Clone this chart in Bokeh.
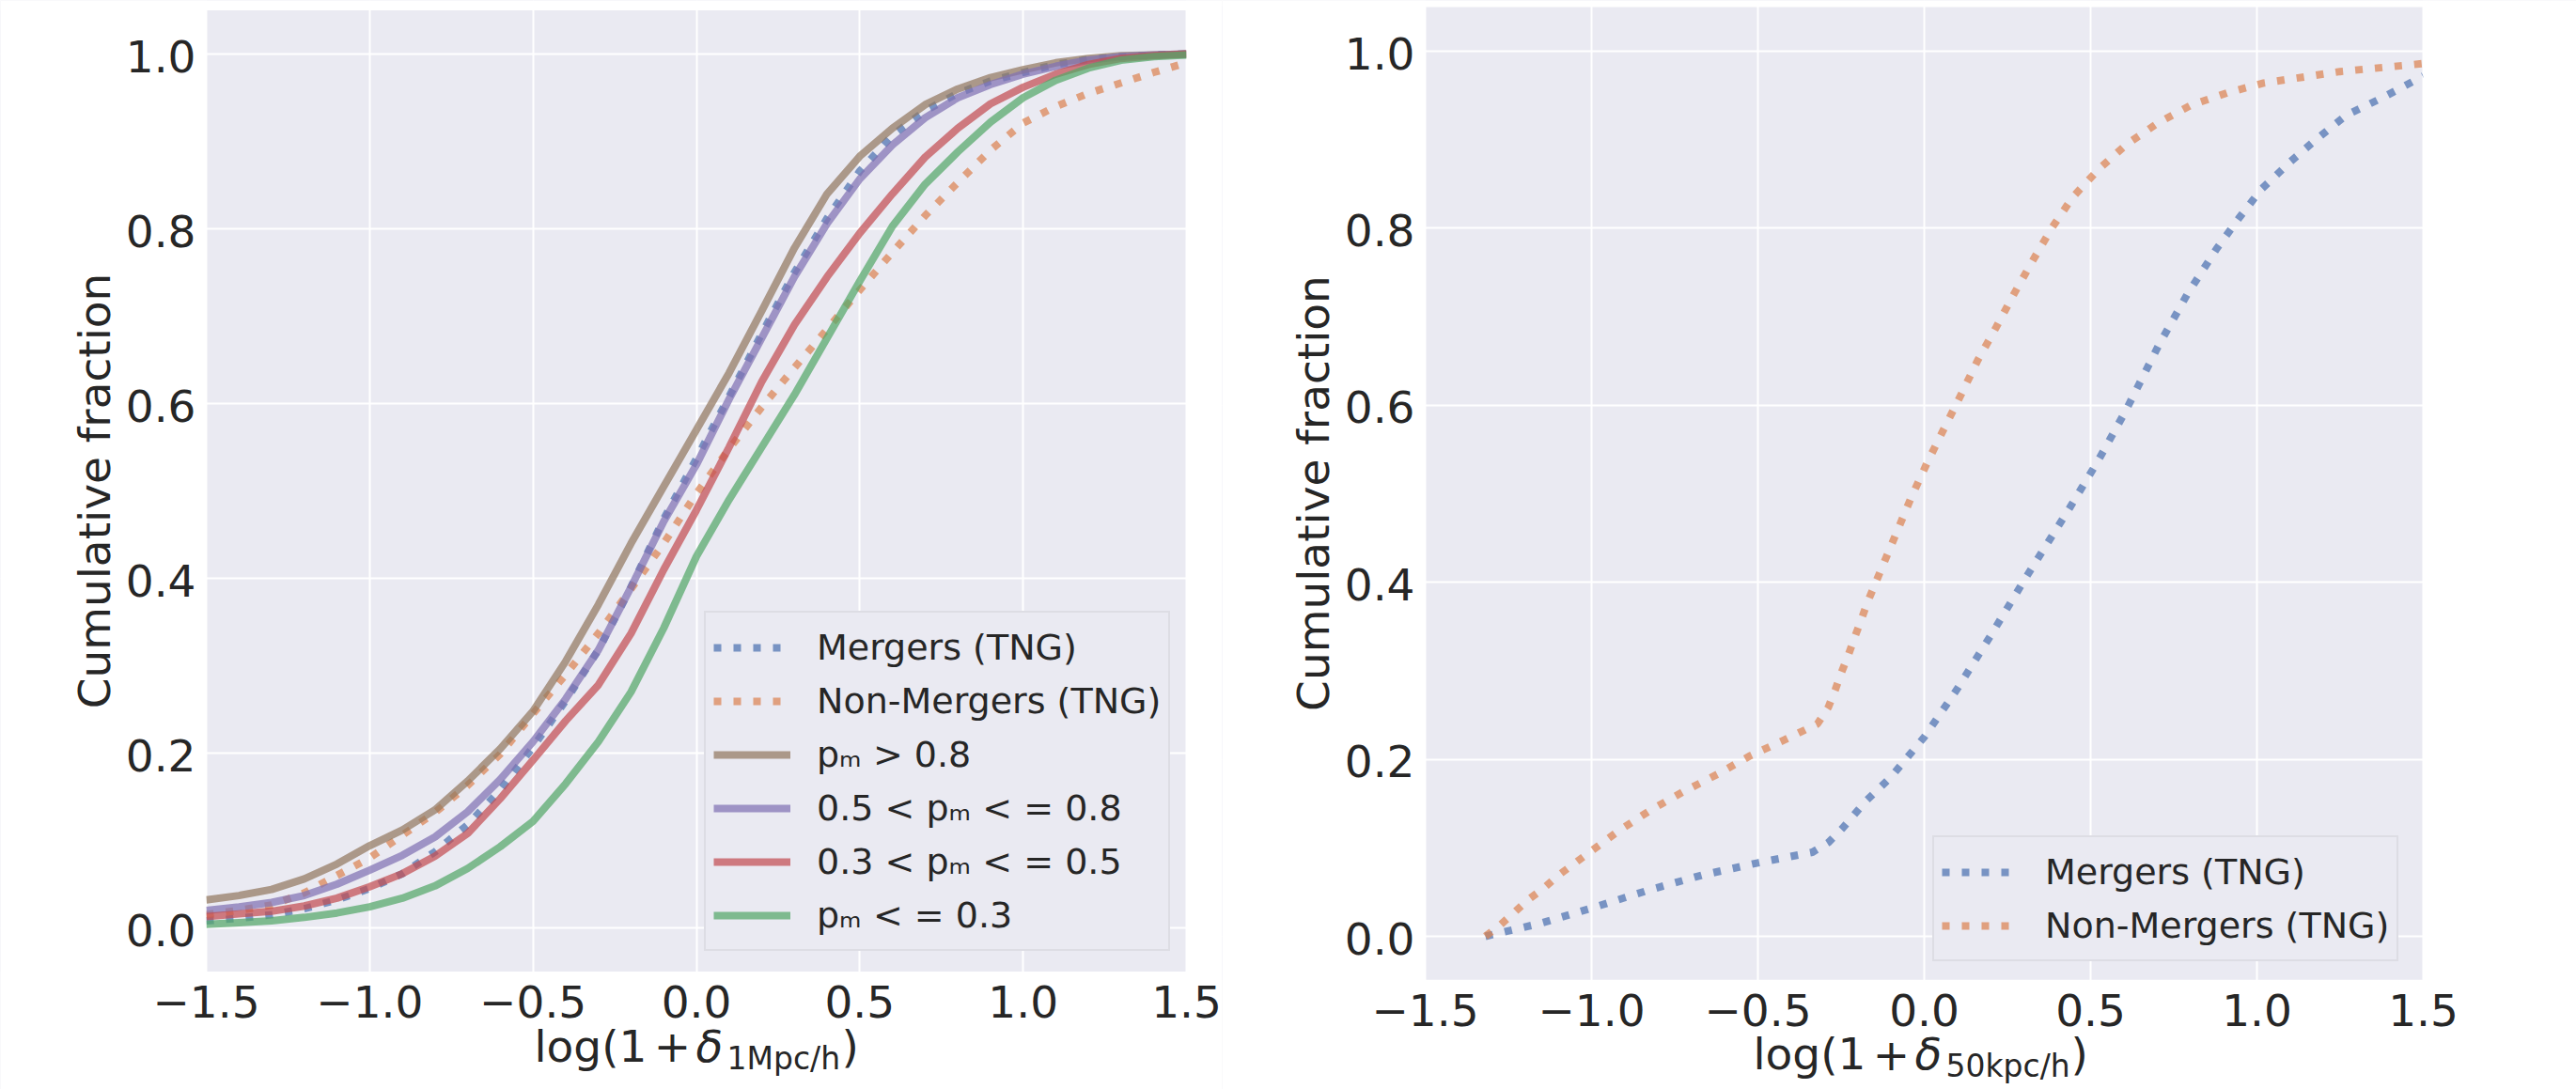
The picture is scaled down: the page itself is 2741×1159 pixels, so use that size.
import math
from bokeh.plotting import figure
from bokeh.models import FixedTicker, Legend, LegendItem, Range1d, BoxAnnotation
from bokeh.layouts import row
from bokeh.core.properties import value
from bokeh.embed import file_html
from bokeh.resources import INLINE

# ---------------- data ----------------
X_TICKS = [-1.5, -1.0, -0.5, 0.0, 0.5, 1.0, 1.5]
X_TICK_LABELS = ["\u22121.5", "\u22121.0", "\u22120.5", "0.0", "0.5", "1.0", "1.5"]
Y_TICKS = [0.0, 0.2, 0.4, 0.6, 0.8, 1.0]
Y_TICK_LABELS = ["0.0", "0.2", "0.4", "0.6", "0.8", "1.0"]

# left panel: cumulative fractions vs log(1+delta_1Mpc/h)
left_x = [-1.5, -1.4, -1.3, -1.2, -1.1, -1.0, -0.9, -0.8, -0.7, -0.6, -0.5, -0.4, -0.3, -0.2,
          -0.1, 0.0, 0.1, 0.2, 0.3, 0.4, 0.5, 0.6, 0.7, 0.8, 0.9, 1.0, 1.1, 1.2, 1.3, 1.4, 1.5]
left_mergers = [0.008, 0.011, 0.015, 0.022, 0.032, 0.045, 0.062, 0.087, 0.118, 0.158, 0.207, 0.26,
                0.318, 0.39, 0.468, 0.537, 0.608, 0.68, 0.75, 0.812, 0.866, 0.907, 0.935, 0.955,
                0.969, 0.979, 0.988, 0.994, 0.997, 0.999, 1.0]
left_nonmergers = [0.015, 0.02, 0.026, 0.04, 0.06, 0.08, 0.106, 0.132, 0.163, 0.199, 0.245, 0.29,
                   0.337, 0.388, 0.44, 0.497, 0.548, 0.596, 0.641, 0.685, 0.73, 0.773, 0.815, 0.853,
                   0.89, 0.921, 0.94, 0.955, 0.967, 0.979, 0.99]
left_pm_gt08 = [0.032, 0.037, 0.044, 0.056, 0.073, 0.094, 0.112, 0.135, 0.168, 0.205, 0.248, 0.305,
                0.37, 0.44, 0.505, 0.57, 0.635, 0.706, 0.778, 0.84, 0.883, 0.915, 0.942, 0.96,
                0.973, 0.982, 0.99, 0.995, 0.998, 0.999, 1.0]
left_pm_05_08 = [0.020, 0.024, 0.029, 0.037, 0.050, 0.066, 0.083, 0.104, 0.133, 0.17, 0.213, 0.262,
                 0.318, 0.39, 0.465, 0.53, 0.605, 0.675, 0.745, 0.806, 0.857, 0.896, 0.927, 0.95,
                 0.965, 0.977, 0.986, 0.993, 0.997, 0.999, 1.0]
left_pm_03_05 = [0.013, 0.016, 0.019, 0.025, 0.034, 0.047, 0.062, 0.082, 0.108, 0.148, 0.192, 0.237,
                 0.278, 0.337, 0.41, 0.478, 0.55, 0.625, 0.69, 0.745, 0.795, 0.84, 0.882, 0.915,
                 0.943, 0.962, 0.977, 0.988, 0.995, 0.998, 1.0]
left_pm_le03 = [0.004, 0.006, 0.008, 0.012, 0.017, 0.024, 0.034, 0.048, 0.068, 0.093, 0.122, 0.165,
                0.213, 0.27, 0.343, 0.425, 0.49, 0.55, 0.61, 0.675, 0.74, 0.803, 0.851, 0.888,
                0.922, 0.95, 0.97, 0.984, 0.993, 0.997, 0.999]

# right panel: cumulative fractions vs log(1+delta_50kpc/h)
right_mergers_x = [-1.319, -1.263, -1.15, -0.99, -0.83, -0.669, -0.5, -0.336, -0.288, -0.246, -0.175,
                   -0.1, 0.0, 0.1, 0.2, 0.3, 0.437, 0.522, 0.606, 0.705, 0.79, 0.879, 0.945, 1.013,
                   1.10, 1.18, 1.27, 1.38, 1.47, 1.5]
right_mergers_y = [0.0, 0.005, 0.015, 0.033, 0.052, 0.069, 0.083, 0.095, 0.106, 0.122, 0.153,
                   0.18, 0.225, 0.28, 0.34, 0.402, 0.484, 0.537, 0.594, 0.668, 0.725, 0.777, 0.811, 0.844,
                   0.875, 0.901, 0.928, 0.948, 0.966, 0.972]
right_nonmergers_x = [-1.319, -1.277, -1.235, -1.192, -1.145, -1.103, -1.013, -0.919, -0.825, -0.726,
                      -0.622, -0.523, -0.42, -0.321, -0.288, -0.267, -0.249, -0.227, -0.208, -0.189,
                      -0.170, -0.1, -0.039, 0.010, 0.06, 0.112, 0.161, 0.216, 0.27, 0.327, 0.383,
                      0.446, 0.525, 0.609, 0.703, 0.802, 0.911, 1.02, 1.25, 1.5]
right_nonmergers_y = [0.0, 0.012, 0.026, 0.041, 0.054, 0.068, 0.093, 0.119, 0.142, 0.163,
                      0.183, 0.204, 0.222, 0.240, 0.259, 0.279, 0.298, 0.319, 0.339, 0.358,
                      0.378, 0.441, 0.496, 0.536, 0.574, 0.613, 0.651, 0.688, 0.726, 0.764, 0.8,
                      0.835, 0.867, 0.895, 0.919, 0.939, 0.953, 0.964, 0.977, 0.986]

LEFT_LABELS = ["Mergers (TNG)", "Non-Mergers (TNG)", "p\u2098 > 0.8", "0.5 < p\u2098 < = 0.8",
               "0.3 < p\u2098 < = 0.5", "p\u2098 < = 0.3"]
RIGHT_LABELS = ["Mergers (TNG)", "Non-Mergers (TNG)"]
Y_TITLE = "Cumulative fraction"
X_TITLE_MAIN = "log(1"
X_TITLE_PLUS = "+"
X_TITLE_DELTA = "\u03b4"
X_TITLE_CLOSE = ")"
LEFT_SUB = "1Mpc/h"
RIGHT_SUB = "50kpc/h"

# ---------------- style ----------------
FONT = "DejaVu Sans"
TXT = "#262626"
BG = "#EAEAF2"
C_BLUE, C_ORANGE, C_GREEN, C_RED, C_PURPLE, C_BROWN = "#4C72B0", "#DD8452", "#55A868", "#C44E52", "#8172B3", "#937860"
LW = 8
ALPHA = 0.72
DOT = "8 13"
H = 1159
TICK_DY = 32     # px below the axes area (x tick labels)
TITLE_DY = 79    # px below the axes area (x title)
SUB_DY = 92      # px below the axes area (x title subscript)
YTICK_DY = 2
YTITLE_DX = -119


def panel(w, area_left, area_w, zero_row, px_per_unit_y, y_lo, y_hi, sub, sub_w):
    """One panel drawn on a full-size frame: grey axes area, grid, texts placed around it."""
    kx = area_w / 3.0
    p = figure(width=w, height=H, frame_width=w, frame_height=H, min_border=0,
               x_axis_location=None, y_axis_location=None,
               x_range=Range1d(-1.5 - area_left / kx, -1.5 + (w - area_left) / kx),
               y_range=Range1d((zero_row - H) / px_per_unit_y, zero_row / px_per_unit_y),
               output_backend="svg", toolbar_location=None)
    p.background_fill_color = BG
    p.border_fill_color = "white"
    p.outline_line_color = None
    p.xgrid[0].ticker = FixedTicker(ticks=X_TICKS)
    p.ygrid[0].ticker = FixedTicker(ticks=Y_TICKS)
    for g in (p.xgrid[0], p.ygrid[0]):
        g.grid_line_color = "white"
        g.grid_line_width = 2
    xr, yr = p.x_range, p.y_range
    # white margins around the grey axes area
    for kw in (dict(left=xr.start, right=xr.end, bottom=yr.start, top=y_lo),
               dict(left=xr.start, right=xr.end, bottom=y_hi, top=yr.end),
               dict(left=xr.start, right=-1.5, bottom=yr.start, top=yr.end),
               dict(left=1.5, right=xr.end, bottom=yr.start, top=yr.end)):
        p.add_layout(BoxAnnotation(fill_color="white", fill_alpha=1.0, line_color=None, **kw))
    common = dict(text_font=value(FONT), text_color=TXT, level="overlay", text_baseline="alphabetic")
    # x tick labels
    p.text(x=X_TICKS, y=[y_lo] * len(X_TICKS), text=X_TICK_LABELS, y_offset=TICK_DY,
           text_font_size="47px", text_align="center", **common)
    # y tick labels
    p.text(x=[-1.5] * len(Y_TICKS), y=Y_TICKS, text=Y_TICK_LABELS, x_offset=-11, y_offset=YTICK_DY,
           text_font_size="47px", text_align="right", **common)
    # y title
    p.text(x=[-1.5], y=[(y_lo + y_hi) / 2], text=[Y_TITLE], x_offset=YTITLE_DX, angle=math.pi / 2,
           text_font_size="47px", text_align="center", **common)
    # x title: log(1 + delta_sub)
    p.text(x=[-1.5], y=[y_lo], text=[X_TITLE_MAIN], x_offset=349, y_offset=TITLE_DY,
           text_font_size="47px", text_align="left", **common)
    p.text(x=[-1.5], y=[y_lo], text=[X_TITLE_PLUS], x_offset=496, y_offset=TITLE_DY,
           text_font_size="47px", text_align="center", **common)
    p.text(x=[-1.5], y=[y_lo], text=[X_TITLE_DELTA], x_offset=521, y_offset=TITLE_DY, text_font_style="italic",
           text_font_size="47px", text_align="left", **common)
    p.text(x=[-1.5], y=[y_lo], text=[sub], x_offset=554, y_offset=SUB_DY,
           text_font_size="33px", text_align="left", **common)
    p.text(x=[-1.5], y=[y_lo], text=[X_TITLE_CLOSE], x_offset=554 + sub_w + 1, y_offset=TITLE_DY,
           text_font_size="47px", text_align="left", **common)
    return p


def legend(p, items, loc):
    lg = Legend(items=items, location=loc)
    lg.label_text_font = FONT
    lg.label_text_font_size = "38px"
    lg.label_text_color = TXT
    lg.glyph_width = 82
    lg.glyph_height = 20
    lg.label_height = 57
    lg.label_standoff = 28
    lg.padding = 8
    lg.spacing = 0
    lg.margin = 0
    lg.border_line_color = "#CFCFD6"
    lg.border_line_width = 2
    lg.background_fill_color = BG
    lg.background_fill_alpha = 1.0
    p.add_layout(lg)


# ---------------- left figure ----------------
p1 = panel(1300, 219, 1043, 987, 930.0, -0.05, 1.05, LEFT_SUB, 121)
r_m = p1.line(left_x, left_mergers, line_color=C_BLUE, line_width=LW, line_alpha=ALPHA, line_dash=DOT)
r_n = p1.line(left_x, left_nonmergers, line_color=C_ORANGE, line_width=LW, line_alpha=ALPHA, line_dash=DOT)
r_a = p1.line(left_x, left_pm_gt08, line_color=C_BROWN, line_width=LW, line_alpha=ALPHA)
r_b = p1.line(left_x, left_pm_05_08, line_color=C_PURPLE, line_width=LW, line_alpha=ALPHA)
r_c = p1.line(left_x, left_pm_03_05, line_color=C_RED, line_width=LW, line_alpha=ALPHA)
r_d = p1.line(left_x, left_pm_le03, line_color=C_GREEN, line_width=LW, line_alpha=ALPHA)
legend(p1, [LegendItem(label=l, renderers=[r]) for l, r in zip(LEFT_LABELS, [r_m, r_n, r_a, r_b, r_c, r_d])],
       (749, 147))

# ---------------- right figure ----------------
p2 = panel(1441, 216, 1062, 996, 942.0, -0.049, 1.05, RIGHT_SUB, 132)
s_m = p2.line(right_mergers_x, right_mergers_y, line_color=C_BLUE, line_width=LW, line_alpha=ALPHA, line_dash=DOT)
s_n = p2.line(right_nonmergers_x, right_nonmergers_y, line_color=C_ORANGE, line_width=LW, line_alpha=ALPHA,
              line_dash=DOT)
legend(p2, [LegendItem(label=l, renderers=[r]) for l, r in zip(RIGHT_LABELS, [s_m, s_n])], (756, 136))

layout = row(p1, p2)
open("out.html", "w").write(file_html(layout, INLINE))
